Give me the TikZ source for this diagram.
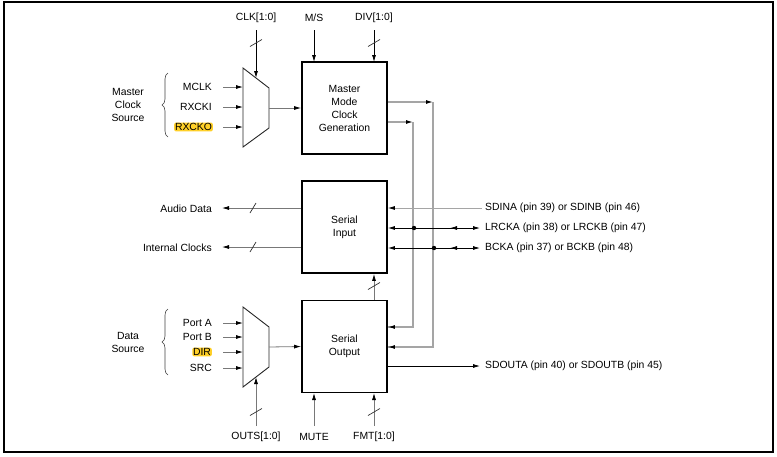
\documentclass[tikz,border=0pt]{standalone}
\usepackage{fontspec}
\setmainfont{Liberation Sans}
\usetikzlibrary{arrows.meta,decorations.pathreplacing}
\definecolor{hl}{RGB}{255,208,40}
\definecolor{ln}{RGB}{120,120,120}
\definecolor{lg}{RGB}{165,165,165}
\begin{document}
\begin{tikzpicture}[x=1pt,y=-1pt,
  font=\fontsize{10.4}{13}\selectfont,
  >={Latex[length=7pt,width=4pt,color=black]},
  blk/.style={draw,line width=1.8pt,minimum width=85pt,minimum height=92pt,align=center,inner sep=0pt},
  mux/.style={draw=black!85,line width=0.9pt},
  sig/.style={draw=ln,line width=0.8pt},
  sigk/.style={draw=black,line width=0.8pt},
  route/.style={draw=lg,line width=1.1pt},
  slash/.style={draw=black!80,line width=0.7pt},
  lbl/.style={inner sep=1pt},
  grp/.style={align=center,inner sep=0pt},
  brc/.style={decorate,decoration={brace,amplitude=6pt},draw=black!75,line width=0.6pt}]
\useasboundingbox (0,0) rectangle (777,456);
\draw[line width=2pt] (4,2) rectangle (773,452);

% blocks
\node[blk] (mmcg) at (344.5,108) {Master\\Mode\\Clock\\Generation};
\node[blk] (sin) at (344.5,227) {Serial\\Input};
\node[blk] (sout) at (344.5,346.5) {Serial\\Output};

% mux shapes
\draw[mux] (243,68) -- (269,88) -- (269,128) -- (243,147) -- cycle;
\draw[mux] (243,307) -- (269,327) -- (269,367) -- (243,387) -- cycle;
\coordinate (m1out) at (269,108);
\coordinate (m2out) at (269,347);
\coordinate (m1top) at (256,78);
\coordinate (m2bot) at (256,377);

% master clock source inputs
\node[lbl,anchor=east] (mclk) at (213,87) {MCLK};
\node[lbl,anchor=east] (rxcki) at (213,107) {RXCKI};
\node[lbl,anchor=east,fill=hl,rounded corners=2pt,inner sep=0.8pt] (rxcko) at (213,127) {RXCKO};
\foreach \y in {87,107,127}{
  \draw[sig,->] (223,\y) -- (243,\y);
}
\draw[brc] (168,137) -- (168,73);
\node[grp] (mcs) at (128,105) {Master\\Clock\\Source};

% data source inputs
\node[lbl,anchor=east] (pa) at (213,323) {Port A};
\node[lbl,anchor=east] (pb) at (213,337) {Port B};
\node[lbl,anchor=east,fill=hl,rounded corners=2pt,inner sep=0.8pt] (dir) at (212,352) {DIR};
\node[lbl,anchor=east] (src) at (213,368) {SRC};
\foreach \y in {323,337,352,368}{
  \draw[sig,->] (223,\y) -- (243,\y);
}
\draw[brc] (168,375) -- (168,309);
\node[grp] (ds) at (128,342) {Data\\Source};

% mux outputs
\draw[sig,->] (m1out) -- (mmcg.west);
\draw[sig,->] (m2out) -- (sout.west);

% top controls
\node[lbl] (clk) at (256,18) {CLK[1:0]};
\node[lbl] (ms) at (314,18) {M/S};
\node[lbl] (div) at (374,18) {DIV[1:0]};
\draw[sigk,->] (256,30) -- (m1top);
\draw[sigk,->] (314,30) -- (314,62);
\draw[sigk,->] (374,30) -- (374,62);
\draw[slash] (250,46.5) -- (262,39.5);
\draw[slash] (368,46.5) -- (380,39.5);

% bottom controls
\node[lbl] (outs) at (256,437) {OUTS[1:0]};
\node[lbl] (mute) at (314,437) {MUTE};
\node[lbl] (fmt) at (374,437) {FMT[1:0]};
\draw[sig,->] (256,426) -- (m2bot);
\draw[sig,->] (314,426) -- (314,393);
\draw[sig,->] (374,426) -- (374,393);
\draw[slash] (250,415.5) -- (262,408.5);
\draw[slash] (368,415.5) -- (380,408.5);

% serial output -> serial input
\draw[sig,->] (sout.north -| 374,0) -- (sin.south -| 374,0);
\draw[slash] (368,289.5) -- (380,282.5);

% serial input left outputs
\node[lbl,anchor=east] (ad) at (213,209) {Audio Data};
\node[lbl,anchor=east] (ic) at (213,248) {Internal Clocks};
\draw[sig,->] (sin.west |- 0,208) -- (222,208);
\draw[sig,->] (sin.west |- 0,247) -- (222,247);
\draw[slash] (250,213) -- (256,203);
\draw[slash] (250,252) -- (256,242);

% master clock routes
\coordinate (ra) at (433,102);
\coordinate (rb) at (413,122);
\draw[route,->] (mmcg.east |- ra) -- (ra);
\draw[route,->] (mmcg.east |- rb) -- (rb);
\draw[route] (ra) -- (433,347) -- (sout.east |- 0,347);
\draw[route] (rb) -- (413,327) -- (sout.east |- 0,327);
\draw[route,->] (414,327) -- (sout.east |- 0,327);
\draw[route,->] (434,347) -- (sout.east |- 0,347);

% right side signals
\node[lbl,anchor=west] (sdin) at (484,208) {SDINA (pin 39) or SDINB (pin 46)};
\node[lbl,anchor=west] (lrck) at (484,228) {LRCKA (pin 38) or LRCKB (pin 47)};
\node[lbl,anchor=west] (bck) at (484,248) {BCKA (pin 37) or BCKB (pin 48)};
\node[lbl,anchor=west] (sdout) at (484,366) {SDOUTA (pin 40) or SDOUTB (pin 45)};
\draw[route,line width=0.8pt,->] (482,208) -- (sin.east |- 0,208);
\draw[sigk,<->] (sin.east |- 0,228) -- (480,228);
\draw[sigk,<->] (sin.east |- 0,248) -- (480,248);
\draw[sigk,->] (459,228) -- (450,228);
\draw[sigk,->] (459,248) -- (450,248);
\fill (414,228) circle (2.2pt);
\fill (434,248) circle (2.2pt);
\draw[sigk,->] (sout.east |- 0,366) -- (480,366);
\end{tikzpicture}
\end{document}
